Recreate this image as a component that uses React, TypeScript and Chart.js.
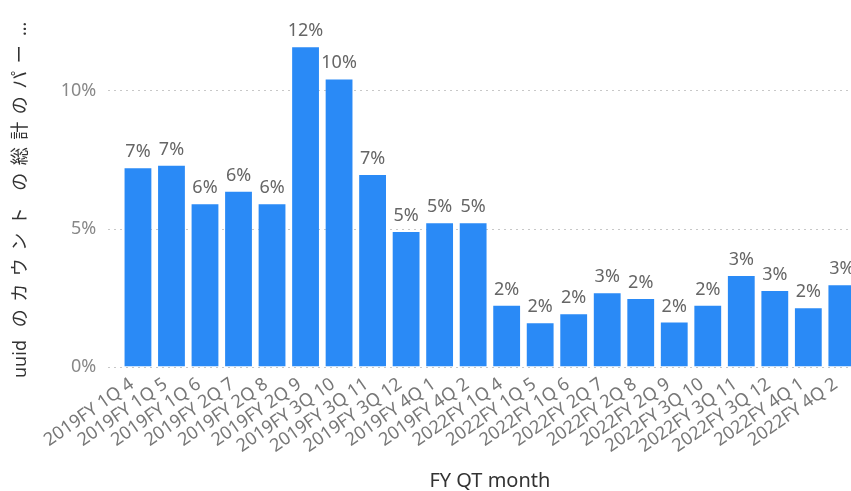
import React, { useEffect, useRef } from "react";
import { Chart, registerables } from "chart.js";

Chart.register(...registerables);

const categories = [
  "2019FY 1Q 4", "2019FY 1Q 5", "2019FY 1Q 6", "2019FY 2Q 7", "2019FY 2Q 8", "2019FY 2Q 9",
  "2019FY 3Q 10", "2019FY 3Q 11", "2019FY 3Q 12", "2019FY 4Q 1", "2019FY 4Q 2",
  "2022FY 1Q 4", "2022FY 1Q 5", "2022FY 1Q 6", "2022FY 2Q 7", "2022FY 2Q 8", "2022FY 2Q 9",
  "2022FY 3Q 10", "2022FY 3Q 11", "2022FY 3Q 12", "2022FY 4Q 1", "2022FY 4Q 2",
];
const percentValues = [
  7.18, 7.27, 5.88, 6.33, 5.88, 11.57, 10.4, 6.94, 4.87, 5.19, 5.19,
  2.2, 1.57, 1.89, 2.65, 2.45, 1.59, 2.2, 3.28, 2.74, 2.11, 2.94,
];
const yTickValues = [0, 5, 10];
const yTitle = "uuid のカウント の総計のパー…";
const xTitle = "FY QT month";

const FONT = '"Noto Sans", "Noto Sans CJK JP", sans-serif';
const BAR_COLOR = "#2A8AF6";

const W = 880;
const H = 491;

export default function App() {
  const ref = useRef<HTMLCanvasElement | null>(null);
  useEffect(() => {
    if (!ref.current) return;
    const gridPlugin = {
      id: "customGrid",
      beforeDatasetsDraw(chart: any) {
        const ctx = chart.ctx;
        const y = chart.scales.y;
        ctx.save();
        ctx.strokeStyle = "#C8C8C8";
        ctx.lineWidth = 1;
        ctx.setLineDash([2, 4]);
        for (const v of yTickValues) {
          const py = Math.round(y.getPixelForValue(v)) + 0.5;
          ctx.beginPath();
          ctx.moveTo(108, py);
          ctx.lineTo(chart.width, py);
          ctx.stroke();
        }
        ctx.restore();
      },
    };
    const labelPlugin = {
      id: "customLabels",
      afterDatasetsDraw(chart: any) {
        const ctx = chart.ctx;
        const meta = chart.getDatasetMeta(0);
        ctx.save();
        ctx.font = `18px ${FONT}`;
        ctx.fillStyle = "#666666";
        ctx.textAlign = "center";
        ctx.textBaseline = "alphabetic";
        meta.data.forEach((bar: any, i: number) => {
          ctx.fillText(Math.round(percentValues[i]) + "%", bar.x, bar.y - 11);
        });
        // x title
        const xs = chart.scales.x;
        ctx.font = `20px ${FONT}`;
        ctx.fillStyle = "#333333";
        ctx.fillText(xTitle, (xs.left + xs.right) / 2, 487);
        // y title, drawn rotated, character by character
        ctx.save();
        ctx.translate(26, 378);
        ctx.rotate(-Math.PI / 2);
        ctx.font = `18px ${FONT}`;
        ctx.textAlign = "left";
        ctx.fillStyle = "#333333";
        let pos = 0;
        for (const ch of Array.from(yTitle)) {
          const isAscii = ch.charCodeAt(0) < 128;
          const w = ctx.measureText(ch).width;
          if (isAscii) {
            ctx.fillText(ch, pos, 0);
            pos += ch === " " ? 9 : w;
          } else {
            ctx.fillText(ch, pos + (25.5 - w) / 2, 0);
            pos += 25.5;
          }
        }
        ctx.restore();
        ctx.restore();
      },
    };
    const chart = new Chart(ref.current, {
      type: "bar",
      data: {
        labels: categories,
        datasets: [
          {
            data: percentValues,
            backgroundColor: BAR_COLOR,
            borderWidth: 0,
            categoryPercentage: 1,
            barPercentage: 0.8,
          },
        ],
      },
      options: {
        responsive: false,
        animation: false,
        devicePixelRatio: 1,
        layout: { padding: { top: 21.5, left: 0, right: 21.4, bottom: 0 } },
        plugins: { legend: { display: false }, tooltip: { enabled: false }, title: { display: false } },
        scales: {
          x: {
            grid: { display: false, drawTicks: false },
            border: { display: false },
            ticks: {
              autoSkip: false,
              maxRotation: 35,
              minRotation: 35,
              padding: 7,
              labelOffset: -6,
              color: "#777777",
              font: { family: FONT, size: 18 },
            },
            afterFit(scale: any) {
              scale.height = 124.5;
              scale.paddingLeft = 0;
              scale.paddingRight = 0;
            },
          },
          y: {
            min: 0,
            max: 12.5,
            grid: { display: false, drawTicks: false },
            border: { display: false },
            ticks: {
              stepSize: 5,
              padding: 25,
              color: "#888888",
              font: { family: FONT, size: 18 },
              callback: (v: any) => v + "%",
            },
            afterBuildTicks(scale: any) {
              scale.ticks = yTickValues.map((v) => ({ value: v }));
            },
            afterFit(scale: any) {
              scale.width = 121.2;
              scale.paddingTop = 0;
              scale.paddingBottom = 0;
            },
          },
        },
      },
      plugins: [gridPlugin, labelPlugin],
    });
    return () => chart.destroy();
  }, []);
  return (
    <div style={{ position: "fixed", left: 0, top: 0, width: 851, height: 491, overflow: "hidden", background: "#fff" }}>
      <canvas ref={ref} width={W} height={H} style={{ width: W, height: H, display: "block" }} />
    </div>
  );
}
